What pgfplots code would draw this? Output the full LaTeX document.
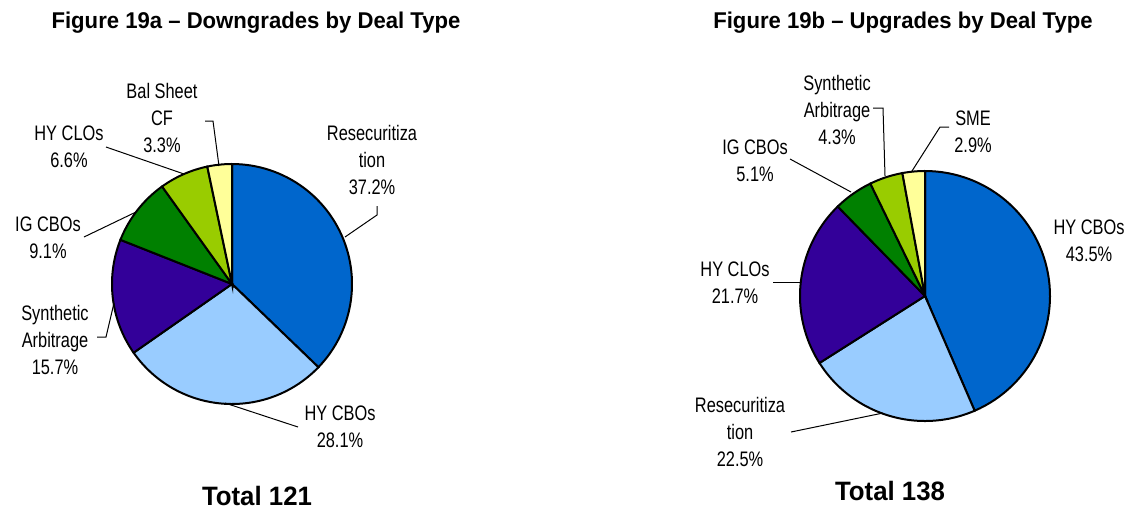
\documentclass[border=0pt]{standalone}
\usepackage{pgfplots}
\pgfplotsset{compat=1.18}
\usepackage{fontspec}
\setmainfont{Liberation Sans}[FakeStretch=0.78, BoldFeatures={FakeStretch=0.97}]
\definecolor{cDark}{HTML}{0066CC}
\definecolor{cLight}{HTML}{99CCFF}
\definecolor{cPurple}{HTML}{330099}
\definecolor{cGreen}{HTML}{008000}
\definecolor{cLime}{HTML}{99CC00}
\definecolor{cYellow}{HTML}{FFFF99}
% slice: color, center x, center y, radius, from %, to %
\newcommand\slice[6]{%
  \addplot[fill=#1, draw=black, line width=1pt, domain=#5:#6, samples=60, variable=\t]
    ({#2+#4*cos(90-3.6*\t)}, {#3-#4*sin(90-3.6*\t)}) -- (axis cs:#2,#3) -- cycle;}
\begin{document}
\begin{tikzpicture}
\begin{axis}[name=ax, width=563.5pt, height=255pt, scale only axis, hide axis,
  xmin=0, xmax=1127, ymin=0, ymax=510, y dir=reverse, clip=false]
% Figure 19a
\slice{cDark}{232}{284}{120}{0}{37.2}
\slice{cLight}{232}{284}{120}{37.2}{65.3}
\slice{cPurple}{232}{284}{120}{65.3}{81.0}
\slice{cGreen}{232}{284}{120}{81.0}{90.1}
\slice{cLime}{232}{284}{120}{90.1}{96.7}
\slice{cYellow}{232}{284}{120}{96.7}{100}
% Figure 19b
\slice{cDark}{925}{296}{125}{0}{43.5}
\slice{cLight}{925}{296}{125}{43.5}{66.0}
\slice{cPurple}{925}{296}{125}{66.0}{87.7}
\slice{cGreen}{925}{296}{125}{87.7}{92.8}
\slice{cLime}{925}{296}{125}{92.8}{97.1}
\slice{cYellow}{925}{296}{125}{97.1}{100}
% leader lines
\tikzset{ld/.style={black, solid, line width=0.5pt, mark=none}}
\addplot[ld] coordinates {(205,121) (213,121) (219,166)};
\addplot[ld] coordinates {(106,147) (184,174)};
\addplot[ld] coordinates {(377,206) (377,215) (345,237)};
\addplot[ld] coordinates {(84,237) (136,212)};
\addplot[ld] coordinates {(97,337) (106,337) (114,303)};
\addplot[ld] coordinates {(298,427) (225,403)};
\addplot[ld] coordinates {(873,108) (883,108) (885,176)};
\addplot[ld] coordinates {(949,127) (940,127) (912,171)};
\addplot[ld] coordinates {(790,159) (851,192)};
\addplot[ld] coordinates {(773,282) (800,282)};
\addplot[ld] coordinates {(791,432) (883,413)};
% text
\tikzset{lbl/.style={align=center, font=\fontsize{10.5}{13.5}\selectfont, inner sep=0pt},
  ttl/.style={font=\fontsize{11.4}{12}\selectfont\bfseries, inner sep=0pt},
  tot/.style={font=\fontsize{13.3}{14}\selectfont\bfseries, inner sep=0pt}}
\node[ttl] at (axis cs:256,23) {Figure 19a -- Downgrades by Deal Type};
\node[ttl] at (axis cs:903,23) {Figure 19b -- Upgrades by Deal Type};
\node[tot] at (axis cs:257,496) {Total 121};
\node[tot] at (axis cs:890,491) {Total 138};
\node[lbl] at (axis cs:162,118) {Bal Sheet\\CF\\3.3\%};
\node[lbl] at (axis cs:69,147) {HY CLOs\\6.6\%};
\node[lbl] at (axis cs:372,160) {Resecuritiza\\tion\\37.2\%};
\node[lbl] at (axis cs:48,238) {IG CBOs\\9.1\%};
\node[lbl] at (axis cs:55,340) {Synthetic\\Arbitrage\\15.7\%};
\node[lbl] at (axis cs:340,427) {HY CBOs\\28.1\%};
\node[lbl] at (axis cs:837,110) {Synthetic\\Arbitrage\\4.3\%};
\node[lbl] at (axis cs:973,132) {SME\\2.9\%};
\node[lbl] at (axis cs:755,161) {IG CBOs\\5.1\%};
\node[lbl] at (axis cs:1089,241) {HY CBOs\\43.5\%};
\node[lbl] at (axis cs:735,283) {HY CLOs\\21.7\%};
\node[lbl] at (axis cs:740,432) {Resecuritiza\\tion\\22.5\%};
\end{axis}
\pgfresetboundingbox
\path (ax.south west) rectangle (ax.north east);
\end{tikzpicture}
\end{document}
